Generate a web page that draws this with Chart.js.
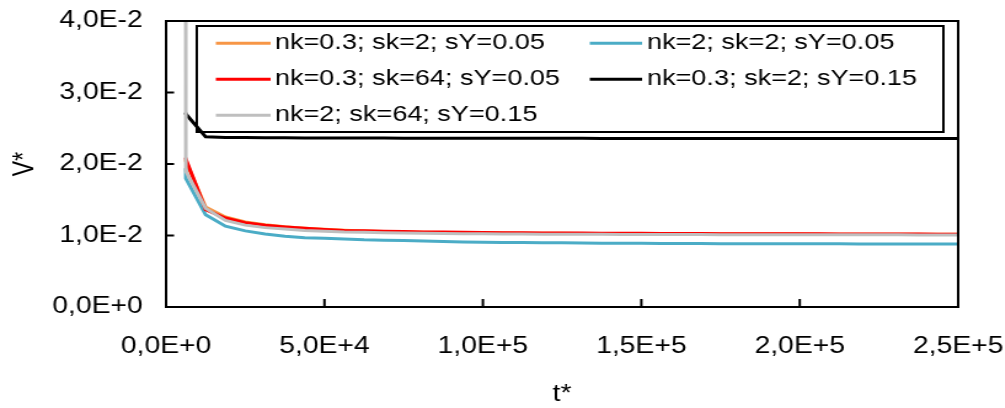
<!doctype html>
<html>

<head>
    <title>V* vs t*</title>
    <script src="https://cdn.jsdelivr.net/npm/chart.js@4.4.1/dist/chart.umd.min.js"></script>
    <style>
        body {
            margin: 0;
            background: #fff;
        }

        /* the reference picture is wider than its text height suggests, so draw narrower and stretch */
        #container {
            width: 817px;
            height: 408px;
            transform: scaleX(1.23);
            transform-origin: 0 0;
        }
    </style>
</head>

<body>
    <div id="container">
        <canvas id="canvas"></canvas>
    </div>
    <script>
        var tValues = [6200, 6250, 12500, 18750, 25000, 31250, 37500, 43750, 50000, 56250,
            62500, 68750, 75000, 81250, 87500, 93750, 100000, 106250, 112500, 118750,
            125000, 131250, 137500, 143750, 150000, 156250, 162500, 168750, 175000, 181250,
            187500, 193750, 200000, 206250, 212500, 218750, 225000, 231250, 237500, 243750,
            250000];

        var seriesLabels = ['nk=0.3; sk=2; sY=0.05', 'nk=2; sk=2; sY=0.05',
            'nk=0.3; sk=64; sY=0.05', 'nk=0.3; sk=2; sY=0.15', 'nk=2; sk=64; sY=0.15'];

        var vOrange = [0.0206, 0.0204, 0.0140, 0.0126, 0.0119, 0.0115, 0.01122, 0.01102, 0.01086, 0.01072,
            0.01062, 0.01055, 0.01050, 0.01045, 0.01042, 0.01040, 0.01037, 0.01035, 0.01033, 0.01031,
            0.01030, 0.01029, 0.01028, 0.01027, 0.01026, 0.01025, 0.01024, 0.01023, 0.01022, 0.01022,
            0.01021, 0.01020, 0.01020, 0.01019, 0.01019, 0.01018, 0.01018, 0.01017, 0.01017, 0.01016,
            0.01016];
        var vBlue = [0.0194, 0.0180, 0.0129, 0.0113, 0.01065, 0.0102, 0.0099, 0.0097, 0.0096, 0.0095,
            0.0094, 0.00935, 0.0093, 0.00922, 0.00916, 0.0091, 0.00905, 0.00903, 0.00901, 0.00899,
            0.00897, 0.00895, 0.00893, 0.00891, 0.0089, 0.00889, 0.00888, 0.00887, 0.00886, 0.00885,
            0.00885, 0.00884, 0.00884, 0.00883, 0.00883, 0.00882, 0.00882, 0.00882, 0.00881, 0.00881,
            0.00881];
        var vRed = [0.0209, 0.0207, 0.0136, 0.01245, 0.0118, 0.01145, 0.0112, 0.0110, 0.01085, 0.0107,
            0.01065, 0.0106, 0.01055, 0.0105, 0.01048, 0.01045, 0.01042, 0.0104, 0.01038, 0.01036,
            0.01035, 0.01034, 0.01033, 0.01032, 0.0103, 0.01029, 0.01028, 0.01027, 0.01026, 0.01025,
            0.01025, 0.01024, 0.01023, 0.01024, 0.01022, 0.01021, 0.0102, 0.01022, 0.0102, 0.01019,
            0.01018];
        var vBlack = [0.0272, 0.0270, 0.0238, 0.02372, 0.0237, 0.02368, 0.02366, 0.02365, 0.02364, 0.02363,
            0.02362, 0.02362, 0.02361, 0.02361, 0.0236, 0.0236, 0.0236, 0.0236, 0.02359, 0.02359,
            0.02359, 0.02359, 0.02358, 0.02358, 0.02358, 0.02358, 0.02358, 0.02357, 0.02357, 0.02357,
            0.02357, 0.02357, 0.02357, 0.02356, 0.02356, 0.02356, 0.02356, 0.02356, 0.02356, 0.02356,
            0.02356];
        var vGray = [0.065, 0.0190, 0.0138, 0.0121, 0.01145, 0.0111, 0.0109, 0.0107, 0.0106, 0.0105,
            0.01045, 0.0104, 0.01035, 0.0103, 0.01028, 0.01026, 0.01024, 0.01022, 0.0102, 0.01019,
            0.01018, 0.01017, 0.01016, 0.01015, 0.01014, 0.01014, 0.01013, 0.01013, 0.01012, 0.01012,
            0.01011, 0.01011, 0.0101, 0.0101, 0.0101, 0.01009, 0.01009, 0.01012, 0.01008, 0.01008,
            0.01008];

        var xTicks = [0, 50000, 100000, 150000, 200000, 250000];
        var xTickLabels = ['0,0E+0', '5,0E+4', '1,0E+5', '1,5E+5', '2,0E+5', '2,5E+5'];
        var yTicks = [0, 0.01, 0.02, 0.03, 0.04];
        var yTickLabels = ['0,0E+0', '1,0E-2', '2,0E-2', '3,0E-2', '4,0E-2'];

        var colors = ['#F79646', '#4BACC6', '#FF0000', '#000000', '#BFBFBF'];
        var drawOrder = [5, 4, 3, 2, 1]; // gray ends up on top, like the original

        function points(values) {
            return tValues.map(function (t, i) {
                return { x: t, y: values[i] };
            });
        }

        var allSeries = [vOrange, vBlue, vRed, vBlack, vGray];
        var datasets = allSeries.map(function (values, i) {
            return {
                label: seriesLabels[i],
                data: points(values),
                borderColor: colors[i],
                backgroundColor: colors[i],
                borderWidth: 3,
                pointRadius: 0,
                tension: 0,
                order: drawOrder[i]
            };
        });

        var FONT = 'Liberation Sans, Arial, sans-serif';
        Chart.defaults.font.family = FONT;
        Chart.defaults.font.size = 23;
        Chart.defaults.color = '#000';

        // plot frame plus inward tick marks
        var frame = {
            id: 'frame',
            afterDraw: function (chart) {
                var ctx = chart.ctx, a = chart.chartArea;
                var xs = chart.scales.x, ys = chart.scales.y;
                ctx.save();
                ctx.strokeStyle = '#000';
                ctx.lineWidth = 2;
                ctx.strokeRect(a.left, a.top, a.right - a.left, a.bottom - a.top);
                ctx.beginPath();
                xs.ticks.forEach(function (t) {
                    var px = xs.getPixelForValue(t.value);
                    ctx.moveTo(px, a.bottom);
                    ctx.lineTo(px, a.bottom - 8);
                });
                ys.ticks.forEach(function (t) {
                    var py = ys.getPixelForValue(t.value);
                    ctx.moveTo(a.left, py);
                    ctx.lineTo(a.left + 6.5, py);
                });
                ctx.stroke();
                ctx.restore();
            }
        };

        // boxed legend inside the plot, two columns
        var boxLegend = {
            id: 'boxLegend',
            afterDraw: function (chart) {
                var ctx = chart.ctx, a = chart.chartArea;
                var left = a.left + 25, top = a.top + 5, right = a.right - 12, bottom = a.top + 111;
                var rows = [22.3, 58.3, 94.3];
                var cols = [{ l1: 40.5, l2: 85, tx: 88.5 }, { l1: 344.5, l2: 387, tx: 391 }];
                ctx.save();
                ctx.strokeStyle = '#000';
                ctx.lineWidth = 2;
                ctx.strokeRect(left, top, right - left, bottom - top);
                ctx.font = '22px ' + FONT;
                ctx.textBaseline = 'middle';
                ctx.textAlign = 'left';
                chart.data.datasets.forEach(function (ds, i) {
                    var c = cols[i % 2], y = a.top + rows[Math.floor(i / 2)];
                    ctx.strokeStyle = ds.borderColor;
                    ctx.lineWidth = 3;
                    ctx.beginPath();
                    ctx.moveTo(a.left + c.l1, y);
                    ctx.lineTo(a.left + c.l2, y);
                    ctx.stroke();
                    ctx.fillStyle = '#000';
                    ctx.fillText(ds.label, a.left + c.tx, y);
                });
                ctx.restore();
            }
        };

        window.onload = function () {
            var ctx = document.getElementById('canvas').getContext('2d');
            window.myChart = new Chart(ctx, {
                type: 'line',
                data: { datasets: datasets },
                plugins: [frame, boxLegend],
                options: {
                    responsive: true,
                    maintainAspectRatio: false,
                    animation: false,
                    layout: {
                        autoPadding: false,
                        padding: { left: 0, right: 38, top: 21, bottom: 0 }
                    },
                    plugins: {
                        legend: { display: false },
                        tooltip: { enabled: false }
                    },
                    scales: {
                        x: {
                            type: 'linear',
                            min: 0,
                            max: 250000,
                            afterBuildTicks: function (scale) {
                                scale.ticks = xTicks.map(function (v) { return { value: v }; });
                            },
                            afterFit: function (scale) {
                                scale.height = 101;
                                scale.paddingLeft = 0;
                                scale.paddingRight = 0;
                            },
                            grid: { display: false, drawTicks: false },
                            border: { display: false },
                            ticks: {
                                padding: 26,
                                maxRotation: 0,
                                callback: function (v, i) { return xTickLabels[i]; }
                            },
                            title: {
                                display: true,
                                text: 't*',
                                padding: { top: 0, bottom: 0 }
                            }
                        },
                        y: {
                            min: 0,
                            max: 0.04,
                            afterBuildTicks: function (scale) {
                                scale.ticks = yTicks.map(function (v) { return { value: v }; });
                            },
                            afterFit: function (scale) {
                                scale.width = 135;
                                scale.paddingTop = 0;
                                scale.paddingBottom = 0;
                            },
                            grid: { display: false, drawTicks: false },
                            border: { display: false },
                            ticks: {
                                padding: 19,
                                callback: function (v, i) { return yTickLabels[i]; }
                            },
                            title: {
                                display: true,
                                text: 'V*',
                                padding: { top: 7, bottom: 0 }
                            }
                        }
                    }
                }
            });
        };
    </script>
</body>

</html>
